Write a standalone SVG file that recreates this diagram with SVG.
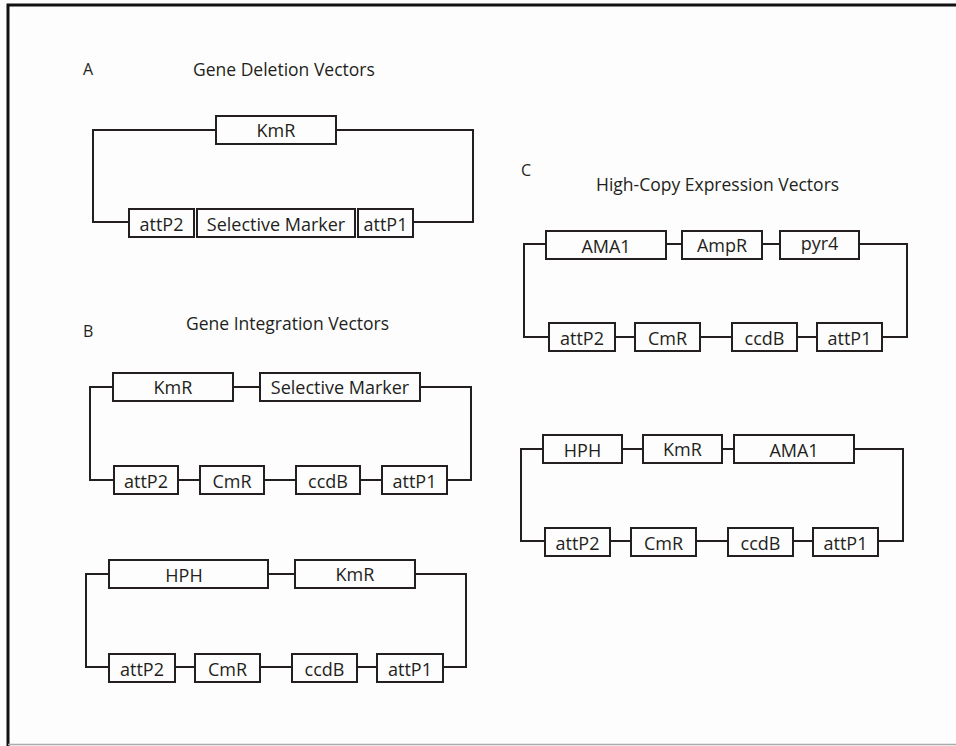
<svg xmlns="http://www.w3.org/2000/svg" width="956" height="746" viewBox="0 0 956 746">
<style>
.bx rect{fill:#fdfdfd;stroke:#231f20;stroke-width:2}
.bx text{font-family:"Open Sans","Liberation Sans",sans-serif;font-size:18px;fill:#231f20;text-anchor:middle}
.lbl{font-family:"Open Sans","Liberation Sans",sans-serif;fill:#231f20}
#connectors path{fill:none;stroke:#231f20;stroke-width:2}
</style>
<rect x="0" y="0" width="956" height="746" fill="#fdfdfd"/>
<path d="M8,746 V5 H956" fill="none" stroke="#111" stroke-width="3"/>
<path d="M8,744.5 H956" fill="none" stroke="#aaa" stroke-width="1.5"/>

<g id="labels">
<text class="lbl" x="83" y="75" font-size="16">A</text>
<text class="lbl" x="193" y="76" font-size="17.5">Gene Deletion Vectors</text>
<text class="lbl" x="83" y="337" font-size="16">B</text>
<text class="lbl" x="186" y="330" font-size="17.5">Gene Integration Vectors</text>
<text class="lbl" x="521" y="176" font-size="16">C</text>
<text class="lbl" x="596" y="191" font-size="17.5">High-Copy Expression Vectors</text>
</g>

<g id="connectors">
<!-- A -->
<path d="M216,130 H93 V222 H129"/>
<path d="M336,130 H473 V222 H413"/>
<!-- B1 -->
<path d="M113,387 H90 V480 H114"/>
<path d="M233,387 H260"/>
<path d="M420,387 H471 V480 H447"/>
<path d="M178,480 H200 M264,480 H296 M360,480 H382"/>
<!-- B2 -->
<path d="M109,574 H86 V667 H109"/>
<path d="M268,574 H295"/>
<path d="M415,574 H466 V667 H443"/>
<path d="M175,667 H195 M260,667 H292 M357,667 H377"/>
<!-- C1 -->
<path d="M546,244 H524 V337 H549"/>
<path d="M666,244 H682 M762,244 H780"/>
<path d="M859,244 H907 V337 H882"/>
<path d="M615,337 H635 M700,337 H732 M797,337 H817"/>
<!-- C2 -->
<path d="M543,449 H521 V541 H545"/>
<path d="M622,449 H643 M722,449 H734"/>
<path d="M854,449 H903 V541 H878"/>
<path d="M610,541 H631 M696,541 H728 M793,541 H813"/>
</g>

<!-- A nodes -->
<g id="a-kmr" class="bx"><rect x="216" y="116" width="120" height="28"/><text x="276" y="137">KmR</text></g>
<g id="a-attp2" class="bx"><rect x="129" y="209" width="65" height="28"/><text x="161.5" y="230.5">attP2</text></g>
<g id="a-selective" class="bx"><rect x="197" y="209" width="158" height="28"/><text x="276" y="230.5">Selective Marker</text></g>
<g id="a-attp1" class="bx"><rect x="358" y="209" width="55" height="28"/><text x="385.5" y="230.5">attP1</text></g>

<!-- B1 nodes -->
<g id="b1-kmr" class="bx"><rect x="113" y="373" width="120" height="28"/><text x="173" y="394">KmR</text></g>
<g id="b1-selective" class="bx"><rect x="260" y="373" width="160" height="28"/><text x="340" y="394">Selective Marker</text></g>
<g id="b1-attp2" class="bx"><rect x="114" y="466" width="64" height="28"/><text x="146" y="487.5">attP2</text></g>
<g id="b1-cmr" class="bx"><rect x="200" y="466" width="64" height="28"/><text x="232" y="487.5">CmR</text></g>
<g id="b1-ccdb" class="bx"><rect x="296" y="466" width="64" height="28"/><text x="328" y="487.5">ccdB</text></g>
<g id="b1-attp1" class="bx"><rect x="382" y="466" width="65" height="28"/><text x="414.5" y="487.5">attP1</text></g>

<!-- B2 nodes -->
<g id="b2-hph" class="bx"><rect x="109" y="560" width="159" height="28"/><text x="184" y="581.5">HPH</text></g>
<g id="b2-kmr" class="bx"><rect x="295" y="560" width="120" height="28"/><text x="355" y="581">KmR</text></g>
<g id="b2-attp2" class="bx"><rect x="109" y="654" width="66" height="28"/><text x="142" y="675.5">attP2</text></g>
<g id="b2-cmr" class="bx"><rect x="195" y="654" width="65" height="28"/><text x="227.5" y="675.5">CmR</text></g>
<g id="b2-ccdb" class="bx"><rect x="292" y="654" width="65" height="28"/><text x="324.5" y="675.5">ccdB</text></g>
<g id="b2-attp1" class="bx"><rect x="377" y="654" width="66" height="28"/><text x="410" y="675.5">attP1</text></g>

<!-- C1 nodes -->
<g id="c1-ama1" class="bx"><rect x="546" y="231" width="120" height="28"/><text x="606" y="252.5">AMA1</text></g>
<g id="c1-ampr" class="bx"><rect x="682" y="231" width="80" height="28"/><text x="722" y="252">AmpR</text></g>
<g id="c1-pyr4" class="bx"><rect x="780" y="231" width="79" height="28"/><text x="819.5" y="250">pyr4</text></g>
<g id="c1-attp2" class="bx"><rect x="549" y="323" width="66" height="28"/><text x="582" y="344.5">attP2</text></g>
<g id="c1-cmr" class="bx"><rect x="635" y="323" width="65" height="28"/><text x="667.5" y="344.5">CmR</text></g>
<g id="c1-ccdb" class="bx"><rect x="732" y="323" width="65" height="28"/><text x="764.5" y="344.5">ccdB</text></g>
<g id="c1-attp1" class="bx"><rect x="817" y="323" width="65" height="28"/><text x="849.5" y="344.5">attP1</text></g>

<!-- C2 nodes -->
<g id="c2-hph" class="bx"><rect x="543" y="435" width="79" height="28"/><text x="582.5" y="456.5">HPH</text></g>
<g id="c2-kmr" class="bx"><rect x="643" y="435" width="79" height="28"/><text x="682.5" y="456">KmR</text></g>
<g id="c2-ama1" class="bx"><rect x="734" y="435" width="120" height="28"/><text x="794" y="456.5">AMA1</text></g>
<g id="c2-attp2" class="bx"><rect x="545" y="528" width="65" height="28"/><text x="577.5" y="549.5">attP2</text></g>
<g id="c2-cmr" class="bx"><rect x="631" y="528" width="65" height="28"/><text x="663.5" y="549.5">CmR</text></g>
<g id="c2-ccdb" class="bx"><rect x="728" y="528" width="65" height="28"/><text x="760.5" y="549.5">ccdB</text></g>
<g id="c2-attp1" class="bx"><rect x="813" y="528" width="65" height="28"/><text x="845.5" y="549.5">attP1</text></g>
</svg>
